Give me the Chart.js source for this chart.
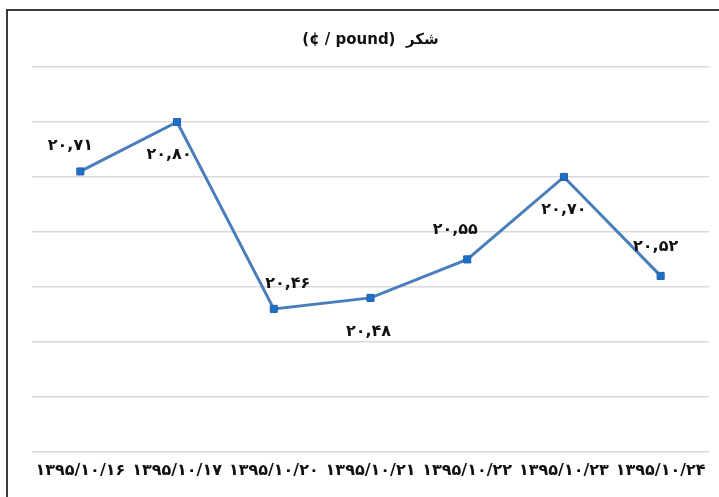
<!DOCTYPE html>
<html lang="fa">
<head>
    <meta charset="UTF-8">
    <title>شکر</title>
    <script src="https://cdn.jsdelivr.net/npm/chart.js"></script>
    <style>
        body {
            margin: 0;
            background: #fff;
        }

        #frame {
            position: absolute;
            left: 6px;
            top: 9px;
            width: 760px;
            height: 520px;
            border-left: 2px solid #3a3a3a;
            border-top: 2px solid #3a3a3a;
        }

        #wrap {
            position: absolute;
            left: 0;
            top: 0;
            width: 719px;
            height: 497px;
        }
    </style>
</head>
<body>
    <div id="frame"></div>
    <div id="wrap">
        <canvas id="sugarChart"></canvas>
    </div>
    <script>
        // chart data
        const dates = ['۱۳۹۵/۱۰/۱۶', '۱۳۹۵/۱۰/۱۷', '۱۳۹۵/۱۰/۲۰', '۱۳۹۵/۱۰/۲۱', '۱۳۹۵/۱۰/۲۲', '۱۳۹۵/۱۰/۲۳', '۱۳۹۵/۱۰/۲۴'];
        const prices = [20.71, 20.80, 20.46, 20.48, 20.55, 20.70, 20.52];
        const priceLabels = ['۲۰,۷۱', '۲۰,۸۰', '۲۰,۴۶', '۲۰,۴۸', '۲۰,۵۵', '۲۰,۷۰', '۲۰,۵۲'];
        const chartTitle = '(¢ / pound)  شکر';

        const faFont = "'DejaVu Sans', sans-serif";

        // where each value label sits relative to its point [dx, dy]
        const labelOffsets = [[-10, -26], [-8, 33], [14, -25], [-2, 34], [-12, -30], [0, 33], [-5, -29]];

        const valueLabels = {
            id: 'valueLabels',
            afterDatasetsDraw(chart) {
                const ctx = chart.ctx;
                const meta = chart.getDatasetMeta(0);
                ctx.save();
                ctx.font = 'bold 16px ' + faFont;
                ctx.fillStyle = '#111';
                ctx.textAlign = 'center';
                ctx.textBaseline = 'middle';
                meta.data.forEach((pt, i) => {
                    const off = labelOffsets[i];
                    ctx.fillText(priceLabels[i], pt.x + off[0], pt.y + off[1]);
                });
                ctx.restore();
            }
        };

        new Chart(document.getElementById('sugarChart'), {
            type: 'line',
            data: {
                labels: dates,
                datasets: [{
                    data: prices,
                    borderColor: '#4a7ebb',
                    borderWidth: 3,
                    pointStyle: 'rect',
                    pointRadius: 5,
                    pointBackgroundColor: '#1c6fd1',
                    pointBorderColor: '#2a5f9e',
                    pointBorderWidth: 1,
                    tension: 0,
                    fill: false
                }]
            },
            options: {
                responsive: true,
                maintainAspectRatio: false,
                animation: false,
                layout: {
                    padding: { left: 32, right: 10, top: 0, bottom: 16 }
                },
                plugins: {
                    legend: { display: false },
                    tooltip: { enabled: false },
                    title: {
                        display: true,
                        text: chartTitle,
                        color: '#111',
                        font: { family: faFont, size: 15, weight: 'bold' },
                        padding: { top: 31, bottom: 18 }
                    }
                },
                scales: {
                    x: {
                        offset: true,
                        grid: { display: false },
                        border: { display: false },
                        ticks: {
                            color: '#111',
                            padding: 1,
                            maxRotation: 0,
                            autoSkip: false,
                            font: { family: faFont, size: 16, weight: 'bold' }
                        }
                    },
                    y: {
                        min: 20.2,
                        max: 20.9,
                        border: { display: false },
                        grid: { color: '#d9d9d9', lineWidth: 1.5, drawTicks: false },
                        ticks: { display: false, stepSize: 0.1 }
                    }
                }
            },
            plugins: [valueLabels]
        });
    </script>
</body>
</html>
